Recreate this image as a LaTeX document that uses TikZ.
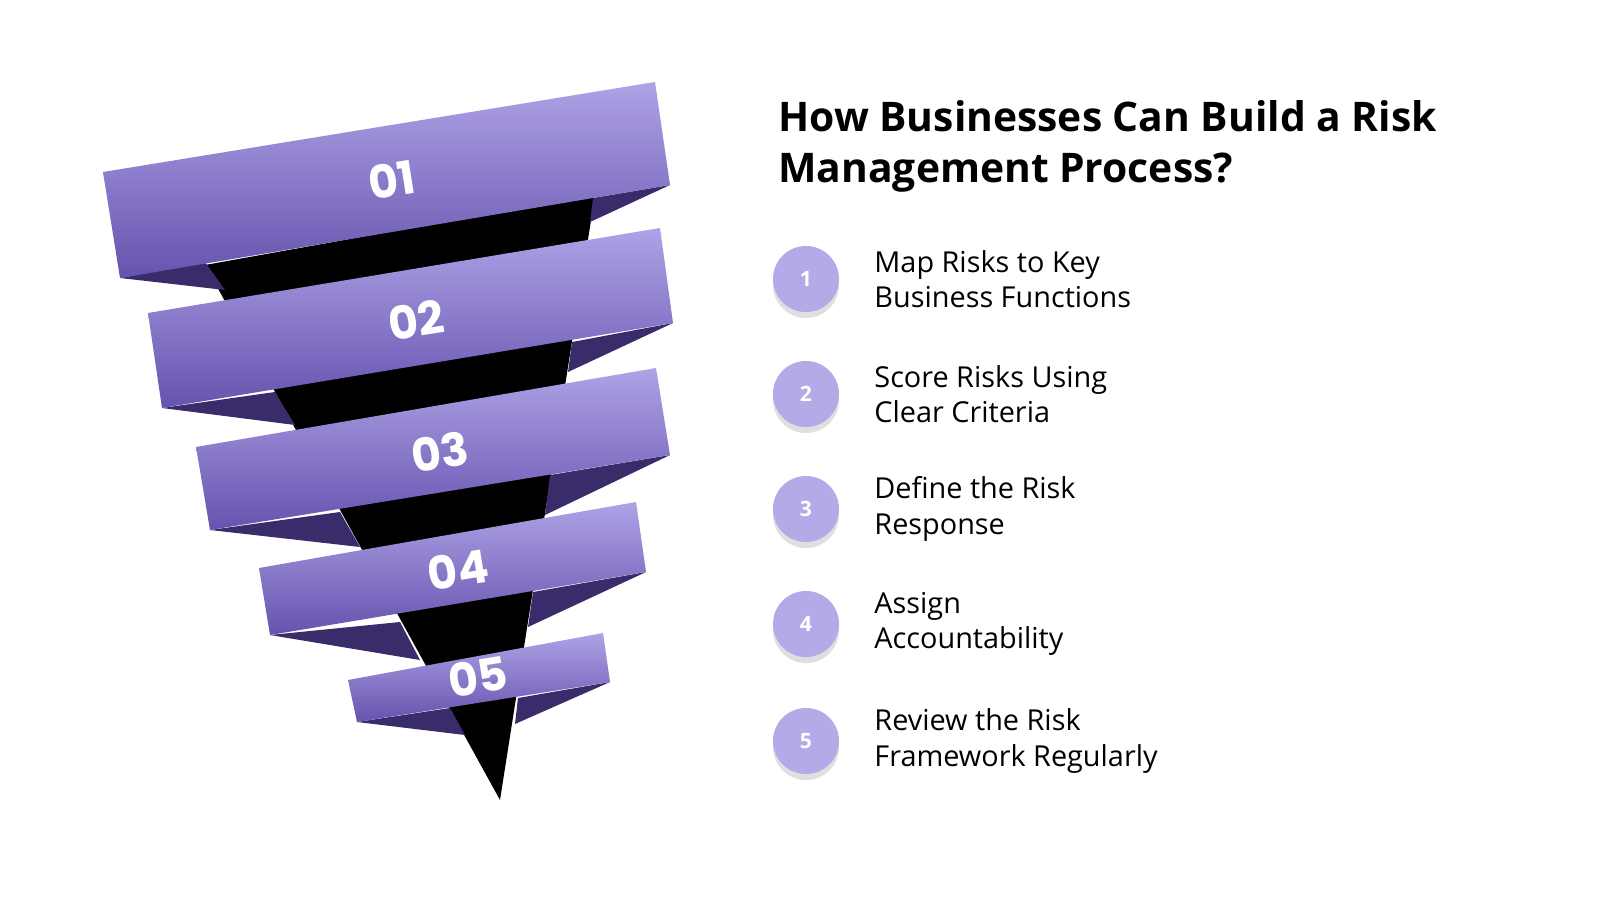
\documentclass[tikz,border=0pt]{standalone}
\usepackage{fontspec}
\setmainfont{Open Sans}
\newfontfamily\pop{Poppins}
\usetikzlibrary{shadows}
\definecolor{bandtop}{HTML}{AFA2E6}
\definecolor{bandbot}{HTML}{6653AE}
\definecolor{flap}{HTML}{3A2B6B}
\definecolor{circ}{HTML}{B5A9E8}
\tikzset{
  band/.style={top color=bandtop,bottom color=bandbot,draw=none},
  flapf/.style={fill=flap,draw=none},
  bandnum/.style={text=white,font=\pop\fontsize{13}{13}\selectfont\bfseries,rotate=9},
  circnode/.style={circle,fill=circ,minimum size=0.66cm,text=white,font=\fontsize{6}{6}\selectfont\bfseries,drop shadow={shadow xshift=0pt,shadow yshift=-0.06cm,opacity=0.25}},
  item/.style={anchor=west,align=left,font=\fontsize{8.2}{10}\selectfont,text=black}
}
\begin{document}
\begin{tikzpicture}[x=0.01cm,y=-0.01cm]
\useasboundingbox[fill=white] (0,0) rectangle (1600,900);
\fill[black] (205,265) -- (595,195) -- (500,800) -- cycle;
% band 1
\fill[flapf] (120,278) -- (225,290) -- (205,262) -- cycle;
\fill[flapf] (670,185) -- (593,198) -- (590,222) -- cycle;
\path[band] (103,172) -- (655,82) -- (670,185) -- (120,278) -- cycle;
% band 2
\fill[flapf] (162,408) -- (295,425) -- (275,392) -- cycle;
\fill[flapf] (673,323) -- (572,342) -- (568,372) -- cycle;
\path[band] (148,313) -- (660,228) -- (673,323) -- (162,408) -- cycle;
% band 3
\fill[flapf] (210,530) -- (360,547) -- (340,512) -- cycle;
\fill[flapf] (670,455) -- (550,475) -- (545,515) -- cycle;
\path[band] (196,447) -- (656,368) -- (670,455) -- (210,530) -- cycle;
% band 4
\fill[flapf] (270,635) -- (420,660) -- (400,622) -- cycle;
\fill[flapf] (646,572) -- (533,592) -- (528,627) -- cycle;
\path[band] (259,568) -- (636,502) -- (646,572) -- (270,635) -- cycle;
% band 5
\fill[flapf] (357,722) -- (465,735) -- (450,708) -- cycle;
\fill[flapf] (610,682) -- (518,698) -- (515,724) -- cycle;
\path[band] (348,680) -- (603,633) -- (610,682) -- (357,722) -- cycle;
\node[bandnum] (n1) at (392,180) {01};
\node[bandnum] (n2) at (416,320) {02};
\node[bandnum] (n3) at (440,452) {03};
\node[bandnum] (n4) at (458,570) {04};
\node[bandnum] (n5) at (478,677) {05};
\node[anchor=north west,align=left,font=\fontsize{11.6}{14.5}\selectfont\bfseries] (title) at (766,88) {How Businesses Can Build a Risk\\Management Process?};
\foreach \i/\y/\t in {1/279/{Map Risks to Key\\Business Functions},2/394/{Score Risks Using\\Clear Criteria},3/509/{Define the Risk\\Response},4/624/{Assign\\Accountability},5/741/{Review the Risk\\Framework Regularly}}{
  \node[circnode] (c\i) at (806,\y) {\i};
  \node[item] (t\i) at (862,\y) {\t};
}
\end{tikzpicture}
\end{document}
